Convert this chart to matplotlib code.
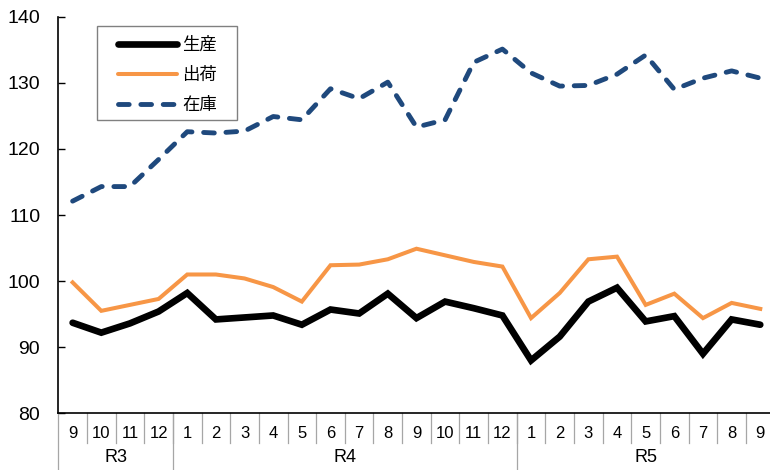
import matplotlib
matplotlib.use("Agg")
import matplotlib.pyplot as plt
from matplotlib.lines import Line2D
from matplotlib.patches import Rectangle
from matplotlib.transforms import blended_transform_factory

plt.rcParams['font.family'] = ['Liberation Sans', 'Noto Sans CJK JP', 'DejaVu Sans']

months = ["9", "10", "11", "12",
          "1", "2", "3", "4", "5", "6", "7", "8", "9", "10", "11", "12",
          "1", "2", "3", "4", "5", "6", "7", "8", "9"]
years = ["R3", "R4", "R5"]
year_counts = [4, 12, 9]

production = [93.7, 92.2, 93.6, 95.4, 98.2, 94.2, 94.5, 94.8, 93.4, 95.7, 95.1, 98.1,
              94.4, 96.9, 95.9, 94.8, 88.0, 91.6, 96.9, 99.0, 93.9, 94.7, 89.0, 94.2, 93.4]
shipments = [99.8, 95.5, 96.4, 97.3, 101.0, 101.0, 100.4, 99.1, 96.9, 102.4, 102.5, 103.3,
             104.9, 103.9, 102.9, 102.2, 94.4, 98.2, 103.3, 103.7, 96.4, 98.1, 94.4, 96.7, 95.8]
inventory = [112.1, 114.3, 114.3, 118.4, 122.6, 122.4, 122.7, 124.9, 124.4, 129.1, 127.6, 130.1,
             123.3, 124.4, 133.1, 135.1, 131.5, 129.5, 129.6, 131.3, 134.2, 129.0, 130.7, 131.8, 130.7]
series_names = ["生産", "出荷", "在庫"]

W, H = 770, 470
fig = plt.figure(figsize=(W / 100, H / 100), dpi=100)
ax = fig.add_axes([58.3 / W, 56.7 / H, 716.3 / W, 396.6 / H])

x = list(range(len(months)))
ax.plot(x, production, color="black", lw=4.8, solid_joinstyle="miter", solid_capstyle="round")
ax.plot(x, shipments, color="#F79646", lw=2.9, solid_joinstyle="miter")
ax.plot(x, inventory, color="#1F497D", lw=3.5, dashes=(2.2, 2.4), dash_capstyle="round",
        dash_joinstyle="round")

ax.set_xlim(-0.5, len(months) - 0.5)
ax.set_ylim(80, 140)
ax.set_yticks(range(80, 141, 10))
ax.tick_params(axis="y", direction="in", length=5, width=1, labelsize=14, pad=13)
ax.set_xticks([])
for s in ["top", "right"]:
    ax.spines[s].set_visible(False)
ax.spines["left"].set_linewidth(1.2)
ax.spines["bottom"].set_linewidth(1.2)

trans = blended_transform_factory(ax.transData, ax.transAxes)
axh = 396.6
for i, m in enumerate(months):
    ax.text(i, -20 / axh, m, transform=trans, ha="center", va="center", fontsize=12)
    if i > 0:
        ax.add_line(Line2D([i - 0.5, i - 0.5], [0, -30 / axh], transform=trans,
                           color="#a6a6a6", lw=0.9, clip_on=False))
start = 0
for y, c in zip(years, year_counts):
    ax.add_line(Line2D([start - 0.5, start - 0.5], [0, -60 / axh], transform=trans,
                       color="#a6a6a6", lw=0.9, clip_on=False))
    ax.text(start + c / 2 - 0.5, -44 / axh, y, transform=trans, ha="center", va="center",
            fontsize=13)
    start += c

# legend frame
fig.patches.append(Rectangle((97 / W, 1 - 120 / H), 140 / W, 94 / H, transform=fig.transFigure,
                             facecolor="white", edgecolor="#808080", lw=1.0, zorder=5))

handles = [
    Line2D([], [], color="black", lw=4.8, solid_capstyle="round"),
    Line2D([], [], color="#F79646", lw=2.9, solid_capstyle="round"),
    Line2D([], [], color="#1F497D", lw=3.5, dashes=(2.2, 2.4), dash_capstyle="round"),
]
leg = fig.legend(handles, series_names, loc="upper left",
                 bbox_to_anchor=(118 / W, 1 - 36 / H),
                 prop={"family": ["Noto Sans CJK JP"], "size": 12.5},
                 frameon=False,
                 handlelength=3.4, handletextpad=0.3, labelspacing=0.68,
                 borderpad=0, borderaxespad=0)
leg.set_zorder(6)

fig.savefig("out.png", dpi=100)
